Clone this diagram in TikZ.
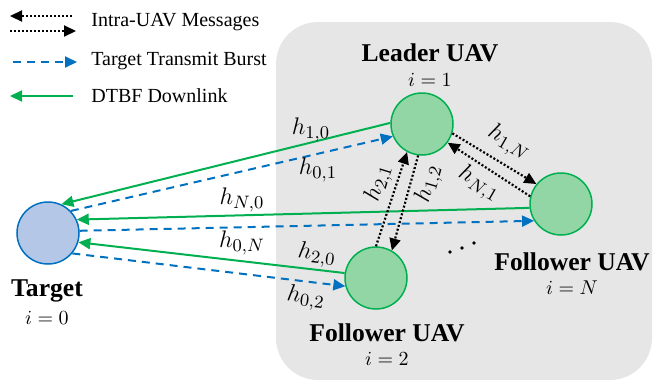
\documentclass[tikz,border=0pt]{standalone}
\usepackage{fontspec}
\setmainfont{Liberation Serif}
\usetikzlibrary{arrows.meta}
\definecolor{uavgreen}{RGB}{0,176,80}
\definecolor{uavfill}{RGB}{146,214,166}
\definecolor{tgtblue}{RGB}{0,112,192}
\definecolor{tgtfill}{RGB}{180,199,231}
\definecolor{boxgray}{RGB}{230,230,230}
\tikzset{
  uav/.style={circle, draw=uavgreen, fill=uavfill, line width=0.75pt, minimum size=31pt, inner sep=0pt},
  tgt/.style={circle, draw=tgtblue, fill=tgtfill, line width=0.75pt, minimum size=31pt, inner sep=0pt},
  tri/.style={-{Triangle[length=6pt,width=5.5pt]}},
  downlink/.style={tri, draw=uavgreen, line width=1pt},
  burst/.style={tri, draw=tgtblue, line width=1pt, dash pattern=on 4pt off 3pt},
  intra/.style={tri, draw=black, line width=1.1pt, dash pattern=on 1pt off 1pt},
  chan/.style={font=\fontsize{13}{15}\selectfont, inner sep=0pt},
  uavname/.style={font=\fontsize{12.8}{15}\selectfont\bfseries, inner sep=0pt},
  idx/.style={font=\fontsize{10}{12}\selectfont, inner sep=0pt},
  legendtext/.style={font=\fontsize{10}{12}\selectfont, anchor=west, inner sep=0pt}
}
\begin{document}
\begin{tikzpicture}[x=0.5pt, y=-0.5pt]
  \useasboundingbox (0,0) rectangle (660,381);
  % swarm area
  \fill[boxgray, rounded corners=21pt] (276,22) rectangle (652,380);

  % legend
  \coordinate (intraA) at (10,16);
  \coordinate (intraB) at (72,16);
  \coordinate (intraC) at (10,31);
  \coordinate (intraD) at (76,31);
  \coordinate (burstA) at (13,62);
  \coordinate (burstB) at (77,62);
  \coordinate (dlA) at (10,96);
  \coordinate (dlB) at (73,96);
  \draw[intra] (intraB) -- (intraA);
  \draw[intra] (intraC) -- (intraD);
  \draw[burst] (burstA) -- (burstB);
  \draw[downlink] (dlB) -- (dlA);
  \node[legendtext] (intraText) at (91,22) {Intra-UAV Messages};
  \node[legendtext] (burstText) at (91,61) {Target Transmit Burst};
  \node[legendtext] (dlText) at (91,96) {DTBF Downlink};

  % nodes
  \node[tgt] (target) at (48,233) {};
  \node[uav] (leader) at (422,124) {};
  \node[uav] (followerN) at (561,204) {};
  \node[uav] (follower2) at (376,278) {};

  \node[uavname] (targetName) at (47,291) {Target};
  \node[idx] (targetIdx) at (47,318) {$i=0$};
  \node[uavname] (leaderName) at (430,53) {Leader UAV};
  \node[idx] (leaderIdx) at (430,80) {$i=1$};
  \node[uavname] (followerNName) at (572,262) {Follower UAV};
  \node[idx] (followerNIdx) at (572,288) {$i=N$};
  \node[uavname] (follower2Name) at (387,333) {Follower UAV};
  \node[idx] (follower2Idx) at (387,359) {$i=2$};
  % dots
  \foreach \p in {(450,252),(462,248),(474,243)}
    \fill \p circle (0.9pt);

  % target links
  \draw[downlink] (leader.178) -- (target.65);
  \draw[burst] (target.44) -- (leader.203);
  \draw[downlink] (followerN.187) -- (target.25);
  \draw[burst] (target.4) -- (followerN.212);
  \draw[downlink] (follower2.171) -- (target.-17);
  \draw[burst] (target.-40) -- (follower2.195);

  % intra-UAV links
  \draw[intra] (leader.-17) -- (followerN.141);
  \draw[intra] (followerN.166) -- (leader.-36);
  \draw[intra] (follower2.90) -- (leader.242);
  \draw[intra] (leader.263) -- (follower2.60);

  % channel labels
  \node[chan] (h10) at (311,130) {$h_{1,0}$};
  \node[chan] (h01) at (318,170) {$h_{0,1}$};
  \node[chan] (hN0) at (242,200) {$h_{N,0}$};
  \node[chan] (h0N) at (242,243) {$h_{0,N}$};
  \node[chan, rotate=-7] (h20) at (317,255) {$h_{2,0}$};
  \node[chan, rotate=-7] (h02) at (306,298) {$h_{0,2}$};
  \node[chan, rotate=-30] (h1N) at (509,143) {$h_{1,N}$};
  \node[chan, rotate=-30] (hN1) at (479,184) {$h_{N,1}$};
  \node[chan, rotate=73] (h21) at (379,183) {$h_{2,1}$};
  \node[chan, rotate=74] (h12) at (429,184) {$h_{1,2}$};
\end{tikzpicture}
\end{document}
